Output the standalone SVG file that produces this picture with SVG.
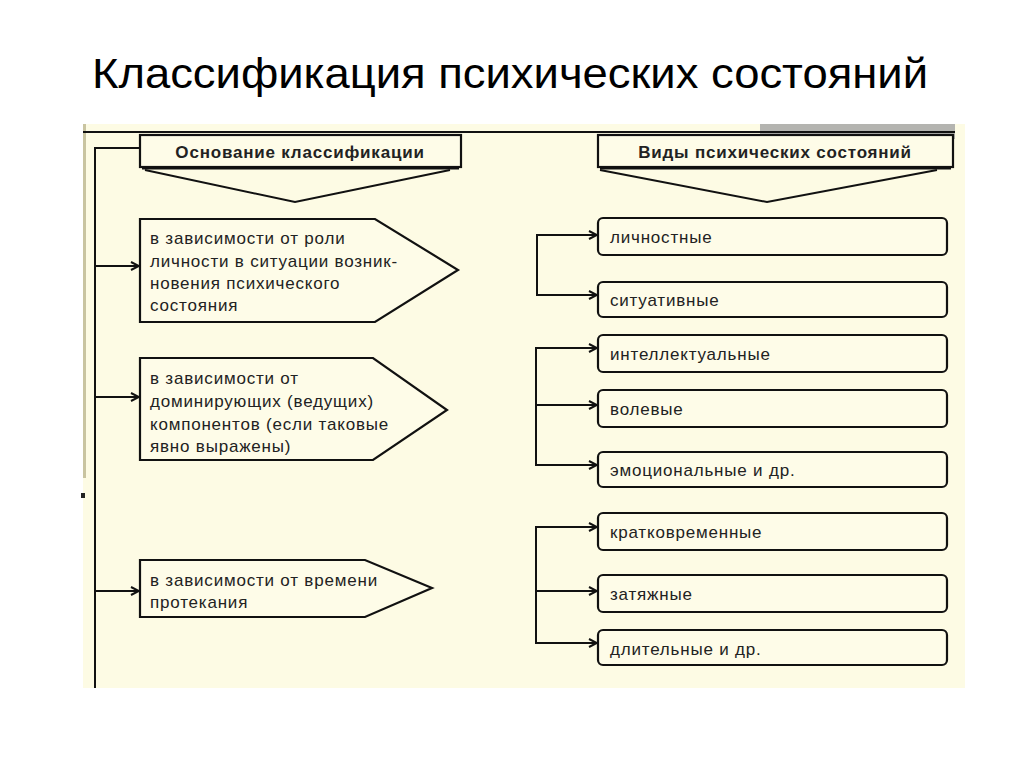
<svg xmlns="http://www.w3.org/2000/svg" width="1024" height="767" viewBox="0 0 1024 767">
<defs>
<marker id="arr" viewBox="0 0 10 10" refX="9" refY="5" markerWidth="10" markerHeight="10" markerUnits="userSpaceOnUse" orient="auto">
<path d="M1,1 L9,5 L1,9" fill="none" stroke="#111" stroke-width="2"/>
</marker>
<style>
.ln{fill:none;stroke:#111;stroke-width:2}
.bx{fill:#fefce8;stroke:#111;stroke-width:2.2}
.hd{font-family:"Liberation Sans",Arial,sans-serif;font-size:17px;font-weight:bold;fill:#222;letter-spacing:0.8px}
.tx{font-family:"Liberation Sans",Arial,sans-serif;font-size:17px;fill:#222;letter-spacing:0.8px}
</style>
</defs>
<rect width="1024" height="767" fill="#ffffff"/>
<text x="92" y="88" font-family="'Liberation Sans',Arial,sans-serif" font-size="42" fill="#000" textLength="836" lengthAdjust="spacingAndGlyphs">Классификация психических состояний</text>
<rect x="83" y="124" width="882" height="564" fill="#fdfbe4"/>
<rect x="83" y="124" width="3" height="354" fill="#c9c4a0"/>
<rect x="81" y="493" width="4" height="5" fill="#222"/>
<rect x="760" y="124" width="195" height="15" fill="#b4b4b0"/>
<line x1="83" y1="132" x2="955" y2="132" stroke="#111" stroke-width="2"/>

<g id="connectors">
<path class="ln" d="M140,148 H95 V688"/>
<path class="ln" d="M95,266 H139" marker-end="url(#arr)"/>
<path class="ln" d="M95,397 H139" marker-end="url(#arr)"/>
<path class="ln" d="M95,591 H139" marker-end="url(#arr)"/>
<path class="ln" d="M597,235 H537 V295 H597" marker-end="url(#arr)"/>
<path class="ln" d="M537,235 H597" marker-end="url(#arr)"/>
<path class="ln" d="M597,348 H536 V465 H597" marker-end="url(#arr)"/>
<path class="ln" d="M536,348 H597" marker-end="url(#arr)"/>
<path class="ln" d="M536,405 H597" marker-end="url(#arr)"/>
<path class="ln" d="M597,527 H536 V643 H597" marker-end="url(#arr)"/>
<path class="ln" d="M536,527 H597" marker-end="url(#arr)"/>
<path class="ln" d="M536,591 H597" marker-end="url(#arr)"/>
</g>

<g id="head-left">
<rect class="bx" x="140" y="135" width="321" height="32"/>
<line x1="142" y1="168.5" x2="459" y2="168.5" stroke="#111" stroke-width="2"/>
<path class="ln" d="M145,170 L295,202 L450,170"/>
<text class="hd" x="300" y="158" text-anchor="middle">Основание классификации</text>
</g>
<g id="head-right">
<rect class="bx" x="598" y="135" width="355" height="32"/>
<line x1="600" y1="168.5" x2="951" y2="168.5" stroke="#111" stroke-width="2"/>
<path class="ln" d="M600,170 L767,202 L937,170"/>
<text class="hd" x="775" y="158" text-anchor="middle">Виды психических состояний</text>
</g>

<g id="basis-role">
<path class="bx" d="M140,219 H375 L458,270 L375,322 H140 Z"/>
<text class="tx" x="150" y="244">в зависимости от роли</text>
<text class="tx" x="150" y="267">личности в ситуации возник-</text>
<text class="tx" x="150" y="289">новения психического</text>
<text class="tx" x="150" y="311">состояния</text>
</g>
<g id="basis-components">
<path class="bx" d="M140,358 H373 L447,410 L373,460 H140 Z"/>
<text class="tx" x="150" y="384">в зависимости от</text>
<text class="tx" x="150" y="407">доминирующих (ведущих)</text>
<text class="tx" x="150" y="430">компонентов (если таковые</text>
<text class="tx" x="150" y="452">явно выражены)</text>
</g>
<g id="basis-time">
<path class="bx" d="M140,560 H365 L432,588 L365,617 H140 Z"/>
<text class="tx" x="150" y="586">в зависимости от времени</text>
<text class="tx" x="150" y="608">протекания</text>
</g>

<g id="t-personal"><rect class="bx" x="598" y="218" width="349" height="37" rx="5"/><text class="tx" x="610" y="243">личностные</text></g>
<g id="t-situational"><rect class="bx" x="598" y="282" width="349" height="35" rx="5"/><text class="tx" x="610" y="306">ситуативные</text></g>
<g id="t-intellectual"><rect class="bx" x="598" y="335" width="349" height="37" rx="5"/><text class="tx" x="610" y="360">интеллектуальные</text></g>
<g id="t-volitional"><rect class="bx" x="598" y="390" width="349" height="37" rx="5"/><text class="tx" x="610" y="415">волевые</text></g>
<g id="t-emotional"><rect class="bx" x="598" y="452" width="349" height="35" rx="5"/><text class="tx" x="610" y="476">эмоциональные и др.</text></g>
<g id="t-short"><rect class="bx" x="598" y="513" width="349" height="37" rx="5"/><text class="tx" x="610" y="538">кратковременные</text></g>
<g id="t-protracted"><rect class="bx" x="598" y="575" width="349" height="37" rx="5"/><text class="tx" x="610" y="600">затяжные</text></g>
<g id="t-long"><rect class="bx" x="598" y="630" width="349" height="35" rx="5"/><text class="tx" x="610" y="655">длительные и др.</text></g>
</svg>
